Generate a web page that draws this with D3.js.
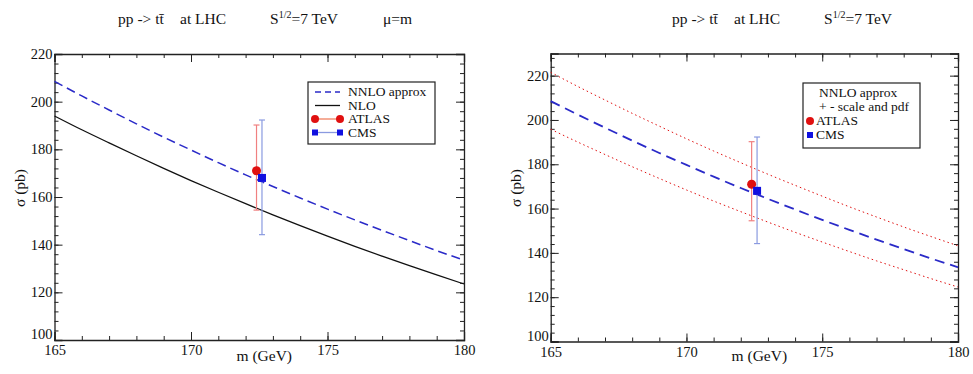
<!DOCTYPE html>
<html>
<head>
<meta charset="utf-8">
<script src="https://cdn.jsdelivr.net/npm/d3@7"></script>
<style>
  body { margin: 0; background: #fff; }
  svg text { font-family: "Liberation Serif", "Times New Roman", Times, "DejaVu Serif", serif !important; fill: #111; }
</style>
</head>
<body>
<svg id="chart" width="973" height="374"></svg>
<script>
// top mass grid (GeV)
var masses = [165, 166, 167, 168, 169, 170, 171, 172, 173, 174, 175, 176, 177, 178, 179, 180];
// cross sections (pb)
var nnlo = [208.5, 202.4, 196.5, 190.7, 185.1, 179.7, 174.4, 169.3, 164.4, 159.6, 154.9, 150.4, 146.0, 141.7, 137.5, 133.5];
var nlo = [194.0, 188.2, 182.7, 177.3, 172.0, 166.9, 162.0, 157.2, 152.5, 148.0, 143.6, 139.3, 135.2, 131.2, 127.3, 123.5];
var nnloUp = [221.5, 215.1, 209.0, 203.0, 197.2, 191.5, 186.0, 180.7, 175.5, 170.5, 165.6, 160.8, 156.2, 151.7, 147.4, 143.2];
var nnloDown = [195.8, 190.0, 184.4, 178.9, 173.6, 168.4, 163.4, 158.6, 153.9, 149.3, 144.9, 140.6, 136.4, 132.4, 128.4, 124.6];
// measurements: [mass, sigma, low, high]
var atlas = [172.4, 171, 154.5, 190.2];
var cms = [172.6, 168, 144.2, 192.3];

var xTicks = [165, 170, 175, 180];
var leftYTicks = [100, 120, 140, 160, 180, 200, 220];
var rightYTicks = [100, 120, 140, 160, 180, 200, 220];

var svg = d3.select("#chart");
var blue = "#2a2ac8", red = "#e01010";

function drawPanel(p) {
    var x = d3.scaleLinear().domain([165, 180]).range([p.left, p.right]);
    var y = d3.scaleLinear().domain(p.yDomain).range([p.bottom, p.top]);
    var g = svg.append("g");

    // minor ticks on all four sides, pointing in
    var xMinor = d3.range(165, 180.01, 1), yMinor = d3.range(p.yDomain[0], p.yDomain[1] + 0.01, 4);
    var axes = [
        [d3.axisBottom(x), p.bottom, 0], [d3.axisTop(x), p.top, 0],
        [d3.axisLeft(y), 0, p.left], [d3.axisRight(y), 0, p.right]
    ];
    axes.forEach(function (a, i) {
        var horiz = i < 2;
        var ax = a[0].tickValues(horiz ? xMinor : yMinor).tickSize(-4).tickFormat("");
        g.append("g").attr("transform", `translate(${a[2]},${a[1]})`).call(ax)
            .call(s => s.select(".domain").remove());
    });
    var maj = [
        [d3.axisBottom(x).tickValues(xTicks), p.bottom, 0, true, 5],
        [d3.axisTop(x).tickValues(xTicks), p.top, 0, false, 0],
        [d3.axisLeft(y).tickValues(p.yTicks), 0, p.left, true, 2],
        [d3.axisRight(y).tickValues(p.yTicks), 0, p.right, false, 0]
    ];
    maj.forEach(function (a, i) {
        var ax = a[0].tickSize(-8).tickPadding(a[4]);
        if (!a[3]) ax.tickFormat("");
        var ag = g.append("g").attr("transform", `translate(${a[2]},${a[1]})`).call(ax);
        // lift the corner "100" clear of the "165" below it
        if (i === 2) ag.selectAll(".tick text").filter(d => d === p.yDomain[0]).attr("dy", "-0.1em");
    });
    g.selectAll(".tick line").attr("stroke", "#222").attr("stroke-width", 1);
    g.selectAll(".domain").attr("stroke", "#222").attr("stroke-width", 1.3);
    g.selectAll(".tick text").style("font-size", "14.5px").attr("fill", "#111");

    var line = d3.line().x((d, i) => x(masses[i])).y(d => y(d)).curve(d3.curveMonotoneX);
    p.curves.forEach(function (c) {
        g.append("path").datum(c.values).attr("d", line)
            .attr("fill", "none").attr("stroke", c.color)
            .attr("stroke-width", c.width).attr("stroke-dasharray", c.dash);
    });

    // error bars
    [[atlas, "#f08080"], [cms, "#8a9ae0"]].forEach(function (m) {
        var d = m[0], xx = x(d[0]);
        g.append("line").attr("x1", xx).attr("x2", xx).attr("y1", y(d[2])).attr("y2", y(d[3]))
            .attr("stroke", m[1]).attr("stroke-width", 1.2);
        [d[2], d[3]].forEach(function (v) {
            g.append("line").attr("x1", xx - 3).attr("x2", xx + 3).attr("y1", y(v)).attr("y2", y(v))
                .attr("stroke", m[1]).attr("stroke-width", 1.2);
        });
    });
    g.append("circle").attr("cx", x(atlas[0])).attr("cy", y(atlas[1])).attr("r", 4.5).attr("fill", red);
    g.append("rect").attr("x", x(cms[0]) - 4).attr("y", y(cms[1]) - 4).attr("width", 8).attr("height", 8).attr("fill", "#1010e0");

    // axis titles
    svg.append("text").attr("x", (p.left + p.right) / 2 + 5).attr("y", 361)
        .attr("text-anchor", "middle").style("font-size", "15.5px").text("m (GeV)");
    svg.append("text").attr("transform", `translate(${p.left - 30},188) rotate(-90)`)
        .attr("text-anchor", "middle").style("font-size", "15.5px").text("σ (pb)");

    // title
    var t = svg.append("text").attr("y", 24).style("font-size", "15.5px");
    t.append("tspan").attr("x", p.tx).text("pp -> tt\u0304");
    t.append("tspan").attr("x", p.tx + 62).text("at  LHC");
    t.append("tspan").attr("x", p.tx + 152).text("S");
    t.append("tspan").attr("dy", -6).style("font-size", "10px").text("1/2");
    t.append("tspan").attr("dy", 6).text("=7 TeV");
    if (p.mu) t.append("tspan").attr("x", p.tx + 265).text("μ=m");

    return { x: x, y: y, g: g };
}

drawPanel({
    left: 54.5, right: 464, top: 54, bottom: 340, yDomain: [100, 220], yTicks: leftYTicks,
    tx: 118, mu: true,
    curves: [
        { values: nlo, color: "#111", width: 1.3, dash: null },
        { values: nnlo, color: blue, width: 1.5, dash: "9,5" }
    ]
});
drawPanel({
    left: 550.7, right: 958, top: 53.5, bottom: 341.5, yDomain: [100, 230], yTicks: rightYTicks,
    tx: 672, mu: false,
    curves: [
        { values: nnloUp, color: red, width: 1, dash: "1.5,3" },
        { values: nnloDown, color: red, width: 1, dash: "1.5,3" },
        { values: nnlo, color: blue, width: 1.8, dash: "10,6" }
    ]
});

// legend, left panel
var lg = svg.append("g");
lg.append("rect").attr("x", 308).attr("y", 82).attr("width", 127).attr("height", 62)
    .attr("fill", "#fff").attr("stroke", "#222").attr("stroke-width", 1.2);
var rows = [
    { label: "NNLO approx", y: 92, color: blue, dash: "6,4" },
    { label: "NLO", y: 105.5, color: "#111", dash: null },
    { label: "ATLAS", y: 119, color: "#f08060", mark: "circle" },
    { label: "CMS", y: 132.5, color: "#8a9ae0", mark: "square" }
];
rows.forEach(function (r) {
    lg.append("line").attr("x1", 315).attr("x2", 340).attr("y1", r.y).attr("y2", r.y)
        .attr("stroke", r.color).attr("stroke-width", 1.3).attr("stroke-dasharray", r.dash);
    [315, 340].forEach(function (cx) {
        if (r.mark === "circle") lg.append("circle").attr("cx", cx).attr("cy", r.y).attr("r", 4).attr("fill", red);
        if (r.mark === "square") lg.append("rect").attr("x", cx - 3).attr("y", r.y - 3).attr("width", 6).attr("height", 6).attr("fill", "#1010e0");
    });
    lg.append("text").attr("x", 348).attr("y", r.y + 4).style("font-size", "13.5px").text(r.label);
});

// legend, right panel
var rg = svg.append("g");
rg.append("rect").attr("x", 803).attr("y", 83).attr("width", 117).attr("height", 65)
    .attr("fill", "#fff").attr("stroke", "#222").attr("stroke-width", 1.2);
rg.append("text").attr("x", 819).attr("y", 97).style("font-size", "13.5px").text("NNLO approx");
rg.append("text").attr("x", 819).attr("y", 111).style("font-size", "13.5px").text("+ - scale and pdf");
rg.append("circle").attr("cx", 810).attr("cy", 121).attr("r", 4).attr("fill", red);
rg.append("text").attr("x", 816).attr("y", 125).style("font-size", "13.5px").text("ATLAS");
rg.append("rect").attr("x", 807).attr("y", 132).attr("width", 6).attr("height", 6).attr("fill", "#1010e0");
rg.append("text").attr("x", 816).attr("y", 139).style("font-size", "13.5px").text("CMS");
</script>
</body>
</html>
